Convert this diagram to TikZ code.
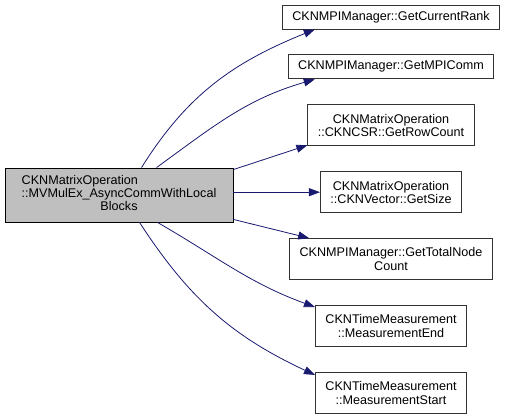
\documentclass[tikz,border=0pt]{standalone}
\usepackage{fontspec}
\setmainfont{Liberation Sans}
\usetikzlibrary{positioning, arrows.meta}

\definecolor{edgeblue}{HTML}{191970}

\begin{document}
\begin{tikzpicture}[
        x=1pt, y=1pt,
        font=\fontsize{12.6}{13.3}\selectfont,
        node distance=25pt,
        >={Triangle[length=11pt, width=8pt]},
        fn/.style={rectangle, draw=black!80, line width=0.9pt, fill=white, align=center, inner xsep=10pt, inner ysep=0pt},
        oneline/.style={fn, minimum height=24pt},
        twoline/.style={fn, minimum height=41pt},
        caller/.style={rectangle, draw=black, line width=0.9pt, fill=black!25, inner xsep=3pt, inner ysep=0pt, minimum height=54pt, minimum width=228pt},
        call/.style={->, draw=edgeblue, line width=0.8pt},
      ]
        \useasboundingbox (0,0) rectangle (508,415);

        \node[caller] (mvmul) at (119,220) {\begin{tabular}{@{}l@{}}CKNMatrixOperation\\::MVMulEx\_AsyncCommWithLocal\\\multicolumn{1}{@{}c@{}}{Blocks}\end{tabular}};

        \node[oneline] (rank) at (391,398) {CKNMPIManager::GetCurrentRank};
        \node[oneline, below=of rank] (comm) {CKNMPIManager::GetMPIComm};
        \node[twoline, below=of comm] (rowcount) {CKNMatrixOperation\\::CKNCSR::GetRowCount};
        \node[twoline, below=of rowcount] (vsize) {CKNMatrixOperation\\::CKNVector::GetSize};
        \node[twoline, below=of vsize] (nodecount) {CKNMPIManager::GetTotalNode\\Count};
        \node[twoline, below=of nodecount] (mend) {CKNTimeMeasurement\\::MeasurementEnd};
        \node[twoline, below=of mend] (mstart) {CKNTimeMeasurement\\::MeasurementStart};

        \draw[call] ([xshift=137pt]mvmul.north west) to[out=58, in=202] ([xshift=33pt]rank.south west);
        \draw[call] ([xshift=152pt]mvmul.north west) to[out=36, in=196] ([xshift=27pt]comm.south west);
        \draw[call] ([yshift=-2pt]mvmul.north east) -- ([yshift=1pt]rowcount.south west);
        \draw[call] (mvmul.east |- vsize.west) -- (vsize.west);
        \draw[call] ([yshift=3pt]mvmul.south east) -- ([xshift=20pt]nodecount.north west);
        \draw[call] ([xshift=153pt]mvmul.south west) to[out=-30, in=160] ([yshift=-2pt]mend.north west);
        \draw[call] ([xshift=135pt]mvmul.south west) to[out=-57, in=155] ([yshift=-3pt]mstart.north west);
      \end{tikzpicture}
\end{document}
